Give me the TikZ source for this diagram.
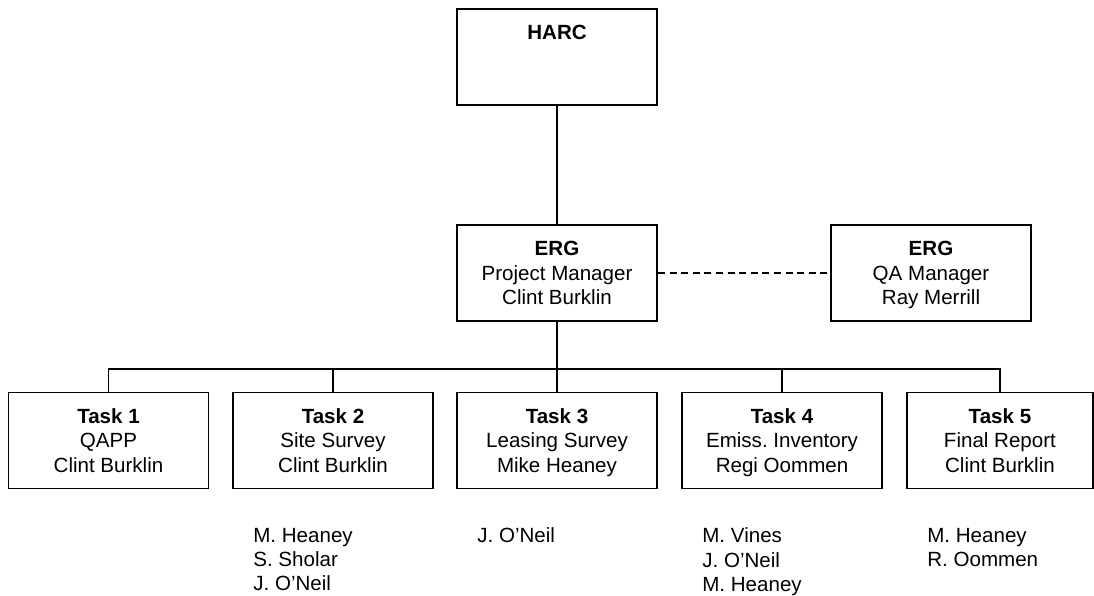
\documentclass[tikz,border=0pt]{standalone}
\usepackage{fontspec}
\setmainfont{Liberation Sans}
\frenchspacing
\tikzset{
    unitbox/.style={draw, line width=1.1pt, minimum width=4cm, minimum height=1.92cm, inner sep=0pt, align=center, text depth=0pt},
    wire/.style={line width=0.8pt},
    staff/.style={anchor=north west, inner sep=0pt, align=left}
}
\begin{document}
\begin{tikzpicture}[x=0.02cm, y=-0.02cm, font=\fontsize{11.7}{13.9}\selectfont]
                    \useasboundingbox (0,0) rectangle (1094,595);

                    % Top
                    \node[unitbox] (harc) at (557,57) {\textbf{HARC}\\ \mbox{}\\ \mbox{}};

                    % Management
                    \node[unitbox] (pm) at (557,273) {\textbf{ERG}\\Project Manager\\Clint Burklin};
                    \node[unitbox] (qa) at (931,273) {\textbf{ERG}\\QA Manager\\Ray Merrill};

                    % Tasks
                    \node[unitbox] (t1) at (108.5,440.5) {\textbf{Task 1}\\QAPP\\Clint Burklin};
                    \node[unitbox] (t2) at (333,440.5) {\textbf{Task 2}\\Site Survey\\Clint Burklin};
                    \node[unitbox] (t3) at (557,440.5) {\textbf{Task 3}\\Leasing Survey\\Mike Heaney};
                    \node[unitbox] (t4) at (782,440.5) {\textbf{Task 4}\\Emiss. Inventory\\Regi Oommen};
                    \node[unitbox, minimum width=3.72cm, anchor=west] (t5) at (906,440.5) {\textbf{Task 5}\\Final Report\\Clint Burklin};

                    % Staff
                    \node[staff] (s2) at (253,527.5) {M. Heaney\\S. Sholar\\J. O’Neil};
                    \node[staff] (s3) at (477,527.5) {J. O’Neil};
                    \node[staff] (s4) at (702,527.5) {M. Vines\\J. O’Neil\\M. Heaney};
                    \node[staff] (s5) at (927,527.5) {M. Heaney\\R. Oommen};

                    % Lines
                    \coordinate (bus) at (557,369);
                    \draw[wire] (harc) -- (pm);
                    \draw[wire, dash pattern=on 4pt off 2.6pt] (pm) -- (qa);
                    \draw[wire] (pm) -- (bus);
                    \draw[wire] (t1.north) -- (t1.north |- bus) -- (t5.north |- bus) -- (t5.north);
                    \foreach \t in {t2,t3,t4}
                        \draw[wire] (\t.north) -- (\t.north |- bus);
\end{tikzpicture}
\end{document}
